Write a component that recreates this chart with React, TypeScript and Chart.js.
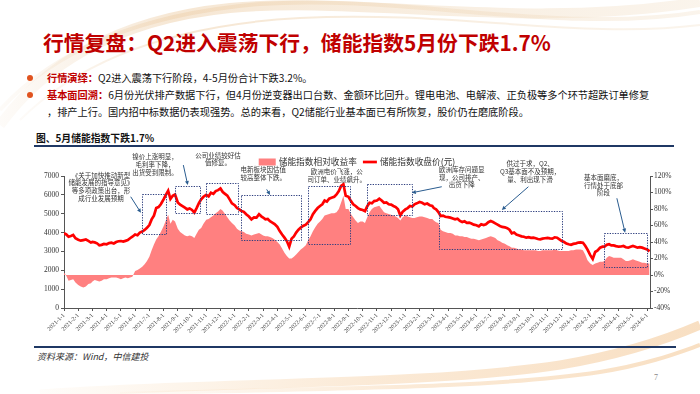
import React, { useEffect, useRef } from 'react';
import { Chart, registerables } from 'chart.js';

Chart.register(...registerables);

// ---------------- DATA ----------------
const MONTH_LABELS = [
  '2021-1-1','2021-2-1','2021-3-1','2021-4-1','2021-5-1','2021-6-1','2021-7-1','2021-8-1','2021-9-1','2021-10-1','2021-11-1','2021-12-1',
  '2022-1-1','2022-2-1','2022-3-1','2022-4-1','2022-5-1','2022-6-1','2022-7-1','2022-8-1','2022-9-1','2022-10-1','2022-11-1','2022-12-1',
  '2023-1-1','2023-2-1','2023-3-1','2023-4-1','2023-5-1','2023-6-1','2023-7-1','2023-8-1','2023-9-1','2023-10-1','2023-11-1','2023-12-1',
  '2024-1-1','2024-2-1','2024-3-1','2024-4-1','2024-5-1','2024-6-1',
];

// observation days within each month (the series below has one value per day listed, month by month)
const SAMPLE_DAYS = [1, 6, 11, 16, 21, 26];

// 储能指数收盘价(元) — one row per month
const CLOSE = [
  3960,3900,3780,3820,3870,3700, // 2021-01
  3620,3570,3600,3630,3560,3470,
  3500,3480,3430,3330,3350,3400,
  3380,3440,3460,3420,3500,3540,
  3550,3520,3560,3600,3700,3780,
  3900,3860,4000,4050,4140,4250,
  4400,4700,4900,5300,5350,5500,
  5760,6000,6220,5780,5950,6020,
  5600,5480,5400,5320,5230,5280,
  5200,5060,5300,5560,5760,5900,
  6000,5920,6110,6050,6200,6250,
  6340,6150,6050,5960,5760,5550,
  5450,5300,5230,5140,5100,4970, // 2022-01
  4850,4700,4800,4790,4970,4850,
  4800,4700,4720,4600,4530,4450,
  4300,4080,3900,3730,3550,3250,
  3680,3800,4000,4150,4260,4350,
  4420,4550,4700,4970,5150,5300,
  5410,5500,5700,5640,5800,5850,
  5900,6020,6200,6470,6560,5950,
  5900,5680,5500,5410,5300,5230,
  5200,5140,5400,5580,5550,5670,
  5700,5800,5700,5580,5600,5500,
  5480,5410,5350,5230,4910,5100,
  5230,5300,5410,5380,5500,5550, // 2023-01
  5620,5580,5500,5540,5450,5410,
  5300,5230,5090,4880,4900,4840,
  4820,4790,4750,4700,4730,4620,
  4560,4600,4520,4530,4480,4420,
  4390,4330,4440,4400,4440,4550,
  4610,4560,4490,4420,4350,4300,
  4280,4230,4150,3960,4000,3900,
  3850,3800,3780,3730,3760,3720,
  3730,3700,3660,3640,3680,3700,
  3720,3690,3680,3750,3730,3640,
  3550,3500,3420,3380,3350,3400,
  3430,3470,3480,3460,3300,3100, // 2024-01
  2800,2600,2970,3050,3200,3250,
  3250,3350,3380,3320,3320,3280,
  3250,3260,3290,3220,3200,3250,
  3290,3250,3200,3230,3200,3150,
  3100,3000,
];

// 储能指数相对收益率 (%) — one row per month
const RELATIVE = [
  3,-1,-7,-6,-5,-9, // 2021-01
  -12,-14,-15,-14,-11,-10,
  -8,-6,-7,-8,-7,-5,
  -5,-4,-3,-3,-3,-4,
  -5,-4,-3,-4,-3,-2,
  5,6,8,10,13,17,
  22,30,37,43,47,52,
  59,66,73,62,67,65,
  56,52,50,48,47,48,
  47,45,50,55,57,62,
  67,68,70,72,75,77,
  80,78,74,70,66,63,
  60,56,54,53,52,50, // 2022-01
  49,48,49,50,51,49,
  48,47,47,46,45,43,
  40,37,32,27,23,20,
  20,22,25,28,31,33,
  36,42,47,53,58,62,
  65,68,72,73,74,75,
  75,76,80,88,96,80,
  80,74,70,66,63,65,
  65,63,70,76,80,82,
  83,84,80,76,75,74,
  73,72,71,69,66,70,
  72,71,70,69,69,70, // 2023-01
  71,71,70,69,68,68,
  66,64,63,55,53,52,
  51,51,50,48,48,47,
  47,46,46,45,44,44,
  43,42,43,44,45,46,
  47,46,45,42,41,39,
  38,36,35,33,33,32,
  31,31,30,30,30,30,
  30,30,29,29,30,30,
  30,30,30,31,30,29,
  29,29,29,29,30,30,
  31,31,31,30,25,18, // 2024-01
  14,12,14,15,16,16,
  17,21,23,22,21,21,
  21,21,19,17,17,18,
  19,18,17,16,15,15,
  14,14,
];

const LEFT_TICKS = [0, 1000, 2000, 3000, 4000, 5000, 6000, 7000];
const RIGHT_TICKS = [-40, -20, 0, 20, 40, 60, 80, 100, 120];

// annotation boxes: [startMonthIdx, endMonthIdx, lowValue, highValue]
const BOXES: number[][] = [
  [5.45, 7.2, 3900, 6050],
  [7.8, 9.57, 5020, 6470],
  [9.99, 12.25, 4980, 6640],
  [12.43, 16.65, 3600, 5990],
  [17.14, 20.1, 3390, 6470],
  [21.28, 24.45, 4930, 6570],
  [26.39, 35.04, 3110, 5140],
  [37.97, 40.98, 2160, 3960],
];
// arrows: [fromMonth, fromValue, toMonth, toValue]
const ARROWS: number[][] = [
  [4.69, 5900, 5.41, 5050],
  [8.39, 7580, 8.7, 6520],
  [14.25, 6290, 14.49, 5990],
  [26.56, 6430, 24.45, 6110],
  [32.65, 6430, 30.78, 5200],
  [38.87, 5820, 39.45, 3990],
];
// notes: anchor (month, value of first line) and text lines
const NOTES: { m: number; v: number; lines: string[] }[] = [
  { m: 2.6, v: 7050, lines: ['《关于加快推动新型', '储能发展的指导意见》', '等多项政策出台，形', '成行业发展预期'] },
  { m: 6.4, v: 8020, lines: ['镍价上涨明显，', '毛利率下降，', '出货受到限制。'] },
  { m: 10.83, v: 8110, lines: ['公司业绩较好估', '值修复。'] },
  { m: 14.0, v: 7350, lines: ['电新板块因估值', '较高整体下跌。'] },
  { m: 19.18, v: 7230, lines: ['欧洲电价飞涨，公', '司订单、业绩飙升。'] },
  { m: 27.97, v: 7350, lines: ['欧洲库存问题显', '现，公司排产、', '出货下降'] },
  { m: 32.77, v: 7640, lines: ['供过于求，Q2、', 'Q3基本面不及预期，', '量、利出现下滑'] },
  { m: 37.93, v: 6930, lines: ['基本面磨底，', '行情处于底部', '阶段'] },
];

const SERIES_NAMES = ['储能指数相对收益率', '储能指数收盘价(元)'];

// ---------------- helpers ----------------
function buildDates(): string[] {
  const out: string[] = [];
  for (const lab of MONTH_LABELS) {
    const [y, m] = lab.split('-');
    for (const d of SAMPLE_DAYS) out.push(`${y}-${m}-${d}`);
  }
  return out.slice(0, CLOSE.length);
}

function monthOffset(d: string): number {
  const [y, m, day] = d.split('-').map(Number);
  const dim = new Date(y, m, 0).getDate();
  return (y - 2021) * 12 + (m - 1) + (day - 1) / dim;
}

const AREA_COLOR = '#FF8080';
const LINE_COLOR = '#FF0000';
const NOTE_BLUE = '#2A5C8F';
const CJK = '"Noto Sans CJK SC", "Noto Sans", sans-serif';
const SERIF = '"Liberation Serif", "DejaVu Serif", serif';

const annotPlugin = {
  id: 'annots',
  afterDatasetsDraw(chart: any) {
    const { ctx, scales, chartArea } = chart;
    const xs = scales.x;
    const ys = scales.y;
    ctx.save();
    // dotted boxes
    ctx.strokeStyle = '#2F3F7F';
    ctx.lineWidth = 1;
    ctx.setLineDash([1.3, 1.3]);
    for (const b of BOXES) {
      const x1 = Math.round(xs.getPixelForValue(b[0])) + 0.5;
      const x2 = Math.round(xs.getPixelForValue(b[1])) + 0.5;
      const y1 = Math.round(ys.getPixelForValue(b[3])) + 0.5;
      const y2 = Math.round(ys.getPixelForValue(b[2])) + 0.5;
      ctx.strokeRect(x1, y1, x2 - x1, y2 - y1);
    }
    ctx.setLineDash([]);
    // arrows
    ctx.strokeStyle = NOTE_BLUE;
    ctx.fillStyle = NOTE_BLUE;
    ctx.lineWidth = 1;
    for (const a of ARROWS) {
      const fx = xs.getPixelForValue(a[0]);
      const fy = ys.getPixelForValue(a[1]);
      const tx = xs.getPixelForValue(a[2]);
      const ty = ys.getPixelForValue(a[3]);
      const ang = Math.atan2(ty - fy, tx - fx);
      const hl = 4.5;
      ctx.beginPath();
      ctx.moveTo(fx, fy);
      ctx.lineTo(tx - Math.cos(ang) * hl * 0.8, ty - Math.sin(ang) * hl * 0.8);
      ctx.stroke();
      ctx.beginPath();
      ctx.moveTo(tx, ty);
      ctx.lineTo(tx - hl * Math.cos(ang - 0.45), ty - hl * Math.sin(ang - 0.45));
      ctx.lineTo(tx - hl * Math.cos(ang + 0.45), ty - hl * Math.sin(ang + 0.45));
      ctx.closePath();
      ctx.fill();
    }
    // notes
    ctx.fillStyle = '#333333';
    ctx.font = '6.5px ' + CJK;
    ctx.textAlign = 'center';
    ctx.textBaseline = 'middle';
    for (const n of NOTES) {
      const cx = xs.getPixelForValue(n.m);
      const cy = ys.getPixelForValue(n.v);
      n.lines.forEach((ln, i) => ctx.fillText(ln, cx, cy + i * 7.8));
    }
    // legend
    ctx.font = '8.7px ' + CJK;
    ctx.textBaseline = 'middle';
    ctx.textAlign = 'left';
    const w0 = ctx.measureText(SERIES_NAMES[0]).width;
    const w1 = ctx.measureText(SERIES_NAMES[1]).width;
    const boxW = 17;
    const gap = 3;
    const total = boxW + gap + w0 + 6 + 14 + gap + w1;
    const lx = (chartArea.left + chartArea.right) / 2 - total / 2;
    const ly = chartArea.top - 14;
    ctx.fillStyle = AREA_COLOR;
    ctx.fillRect(lx, ly - 3.5, boxW, 7);
    ctx.fillStyle = '#333333';
    ctx.fillText(SERIES_NAMES[0], lx + boxW + gap, ly);
    const l2 = lx + boxW + gap + w0 + 6;
    ctx.strokeStyle = LINE_COLOR;
    ctx.lineWidth = 2.7;
    ctx.beginPath();
    ctx.moveTo(l2, ly);
    ctx.lineTo(l2 + 14, ly);
    ctx.stroke();
    ctx.fillStyle = '#333333';
    ctx.fillText(SERIES_NAMES[1], l2 + 14 + gap, ly);
    ctx.restore();
  },
};

function ChartBox() {
  const ref = useRef<HTMLCanvasElement | null>(null);
  useEffect(() => {
    if (!ref.current) return;
    const xs = buildDates().map(monthOffset);
    const chart = new Chart(ref.current, {
      type: 'line',
      data: {
        datasets: [
          {
            label: SERIES_NAMES[0],
            data: xs.map((x, i) => ({ x, y: RELATIVE[i] })),
            yAxisID: 'y1',
            backgroundColor: AREA_COLOR,
            borderColor: AREA_COLOR,
            borderWidth: 0,
            pointRadius: 0,
            fill: 'origin',
            tension: 0,
            order: 2,
          },
          {
            label: SERIES_NAMES[1],
            data: xs.map((x, i) => ({ x, y: CLOSE[i] })),
            yAxisID: 'y',
            borderColor: LINE_COLOR,
            backgroundColor: LINE_COLOR,
            borderWidth: 2.7,
            pointRadius: 0,
            fill: false,
            tension: 0,
            order: 1,
          },
        ],
      },
      options: {
        animation: false,
        responsive: false,
        events: [],
        layout: { padding: { top: 28, left: 0, right: 0, bottom: 0 } },
        plugins: { legend: { display: false }, tooltip: { enabled: false } },
        scales: {
          x: {
            type: 'linear',
            min: 0,
            max: 41.2,
            afterFit: (s: any) => { s.height = 32; },
            border: { display: true, color: '#555555', width: 1 },
            grid: { display: true, drawOnChartArea: false, drawTicks: true, tickLength: 3, color: '#555555' },
            ticks: {
              stepSize: 1,
              includeBounds: false,
              autoSkip: false,
              maxRotation: 45,
              minRotation: 45,
              padding: 1,
              color: '#444444',
              font: { size: 6, family: SERIF },
              callback: (v: any) => (Number.isInteger(v) && MONTH_LABELS[v] ? MONTH_LABELS[v] : ''),
            },
          },
          y: {
            position: 'left',
            min: LEFT_TICKS[0],
            max: LEFT_TICKS[LEFT_TICKS.length - 1],
            afterFit: (s: any) => { s.width = 34; },
            border: { display: true, color: '#555555', width: 1 },
            grid: { display: true, drawOnChartArea: false, drawTicks: true, tickLength: 3, color: '#555555' },
            afterBuildTicks: (s: any) => { s.ticks = LEFT_TICKS.map((v) => ({ value: v })); },
            ticks: { padding: 2, color: '#333333', font: { size: 7.5, family: SERIF }, callback: (v: any) => String(v) },
          },
          y1: {
            position: 'right',
            min: RIGHT_TICKS[0],
            max: RIGHT_TICKS[RIGHT_TICKS.length - 1],
            afterFit: (s: any) => { s.width = 25; },
            border: { display: true, color: '#555555', width: 1 },
            grid: { display: true, drawOnChartArea: false, drawTicks: true, tickLength: 3, color: '#555555' },
            afterBuildTicks: (s: any) => { s.ticks = RIGHT_TICKS.map((v) => ({ value: v })); },
            ticks: { padding: 1, color: '#333333', font: { size: 7.5, family: SERIF }, callback: (v: any) => v + '%' },
          },
        },
      },
      plugins: [annotPlugin],
    } as any);
    return () => chart.destroy();
  }, []);
  return <canvas ref={ref} width={645} height={192} style={{ position: 'absolute', left: 30, top: 148, width: 645, height: 192 }} />;
}

export default function App() {
  const bullet = (top: number) => (
    <div style={{ position: 'absolute', left: 27, top, width: 6, height: 6, borderRadius: 3, background: '#E0531F' }} />
  );
  const base: React.CSSProperties = { position: 'absolute', whiteSpace: 'nowrap', fontFamily: CJK };
  return (
    <div style={{ position: 'fixed', left: 0, top: 0, width: 700, height: 394, background: '#FFFFFF', overflow: 'hidden' }}>
      <svg width={700} height={394} style={{ position: 'absolute', left: 0, top: 0 }}>
        <defs>
          <linearGradient id="gt" x1="0" y1="0" x2="1" y2="0">
            <stop offset="0" stopColor="#EFD9BE" stopOpacity="0.1" />
            <stop offset="0.25" stopColor="#EFD3B0" stopOpacity="0.55" />
            <stop offset="1" stopColor="#F2E0C8" stopOpacity="0.35" />
          </linearGradient>
          <linearGradient id="gb" x1="0" y1="0" x2="1" y2="0">
            <stop offset="0" stopColor="#F5C890" stopOpacity="0.05" />
            <stop offset="0.5" stopColor="#F3C28A" stopOpacity="0.35" />
            <stop offset="1" stopColor="#F0B878" stopOpacity="0.45" />
          </linearGradient>
        </defs>
        <path d="M0,125 C40,70 110,20 230,8 C360,-4 520,30 700,2" stroke="url(#gt)" strokeWidth="10" fill="none" />
        <path d="M0,110 C50,55 130,15 260,4 C400,-6 560,35 700,12" stroke="url(#gt)" strokeWidth="4" fill="none" />
        <path d="M20,120 C80,60 170,25 300,18 C450,10 580,40 700,25" stroke="url(#gt)" strokeWidth="2" fill="none" />
        <path d="M40,394 C200,382 420,386 560,365 C620,355 670,338 700,325" stroke="url(#gb)" strokeWidth="9" fill="none" />
        <path d="M120,394 C300,388 480,390 600,372 C650,364 680,352 700,345" stroke="url(#gb)" strokeWidth="4" fill="none" />
      </svg>

      <div style={{ ...base, left: 43, top: 27, fontSize: 20.8, fontWeight: 700, color: '#C00000' }}>
        行情复盘：Q2进入震荡下行，储能指数5月份下跌1.7%
      </div>

      {bullet(75)}
      <div style={{ ...base, left: 47, top: 70, fontSize: 10.2, color: '#111' }}>
        <span style={{ color: '#C00000', fontWeight: 700 }}>行情演绎：</span>Q2进入震荡下行阶段，4-5月份合计下跌3.2%。
      </div>
      {bullet(92)}
      <div style={{ ...base, left: 47, top: 87, fontSize: 10.2, color: '#111' }}>
        <span style={{ color: '#C00000', fontWeight: 700 }}>基本面回溯：</span>6月份光伏排产数据下行，但4月份逆变器出口台数、金额环比回升。锂电电池、电解液、正负极等多个环节超跌订单修复
      </div>
      <div style={{ ...base, left: 47, top: 104, fontSize: 10.2, color: '#111' }}>
        ，排产上行。国内招中标数据仍表现强势。总的来看，Q2储能行业基本面已有所恢复，股价仍在磨底阶段。
      </div>

      <div style={{ ...base, left: 36, top: 131, fontSize: 9.8, fontWeight: 700, color: '#111' }}>图、5月储能指数下跌1.7%</div>
      <div style={{ position: 'absolute', left: 34, top: 145, width: 640, height: 2, background: '#1F3864' }} />

      <ChartBox />

      <div style={{ position: 'absolute', left: 34, top: 346, width: 642, height: 2, background: '#1F3864' }} />
      <div style={{ ...base, left: 37, top: 350, fontSize: 9, fontStyle: 'italic', color: '#333' }}>资料来源：Wind，中信建投</div>
      <div style={{ ...base, left: 654, top: 373, fontSize: 8, color: '#888', fontFamily: SERIF }}>7</div>
    </div>
  );
}
